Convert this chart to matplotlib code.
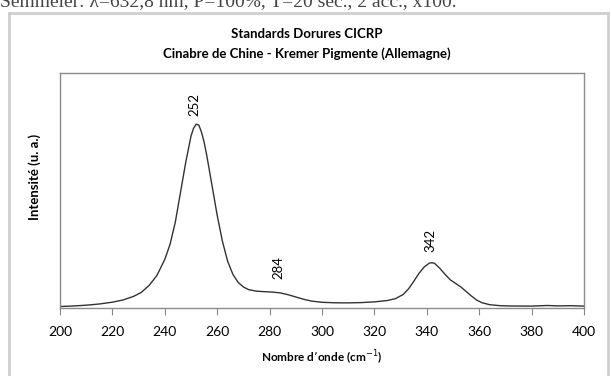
import matplotlib
matplotlib.use("Agg")
import matplotlib.pyplot as plt
from matplotlib.lines import Line2D

# Data (wavenumber in cm-1, intensity in arbitrary units)
wavenumber = [200, 205, 210, 215, 220, 224, 228, 231, 234, 237, 240, 242, 244, 246,
              248, 250, 251, 252, 253, 254, 255, 256, 258, 260, 262, 264, 266, 268,
              270, 272, 275, 278, 281, 284, 287, 290, 293, 296, 300, 305, 310, 315,
              320, 325, 328, 331, 333, 335, 337, 339, 341, 342, 343, 345, 347, 349,
              351, 353, 355, 357, 359, 361, 364, 368, 372, 380, 386, 390, 395, 400]
intensity = [1.0, 1.5, 2.3, 3.5, 5.3, 7.5, 11, 15, 22, 32, 48, 63, 85, 115,
             145, 171, 179, 183, 182, 175, 165, 152, 122, 92, 66, 46, 33, 25,
             20.5, 17.8, 16.3, 15.8, 15.4, 14.6, 12.8, 10.5, 8.2, 6.4, 5.2, 4.7, 4.6, 4.9,
             5.6, 7.0, 8.8, 13, 18.5, 26, 34, 40.5, 44.3, 44.7, 44, 39, 33, 27.5,
             24, 20.5, 16, 11.5, 7.5, 4.8, 2.8, 1.8, 1.5, 1.4, 2.0, 1.6, 1.8, 1.4]

peak_positions = [252, 284, 342]
peak_heights = [183, 14.7, 44.7]
peak_labels = ["252", "284", "342"]

x_ticks = [200, 220, 240, 260, 280, 300, 320, 340, 360, 380, 400]

title_lines = ["Standards Dorures CICRP", "Cinabre de Chine - Kremer Pigmente (Allemagne)"]
header_text = "Semmeier: \u03bb=632,8 nm, P=100%, T=20 sec., 2 acc., x100."

W, H = 611, 376
fig = plt.figure(figsize=(W / 100, H / 100), dpi=100)
fig.patch.set_facecolor("white")

# axes in pixel coordinates: left 60, right 584, top 73, bottom 308
L, R, T, B = 60, 584, 73, 308
ax = fig.add_axes([L / W, 1 - B / H, (R - L) / W, (B - T) / H])

ax.plot(wavenumber, intensity, color="#333333", lw=1.0)
ax.set_xlim(200, 400)
ax.set_ylim(-0.5, 234)
ax.set_xticks(x_ticks)
ax.set_xticklabels([str(t) for t in x_ticks], fontfamily="Lato", fontsize=10)
ax.set_yticks([])
ax.tick_params(axis="x", direction="out", length=5, color="#888888", pad=8)
for s in ax.spines.values():
    s.set_color("#8c8c8c")
    s.set_linewidth(1.0)

label_offsets = [6, 10, 8]
for xp, hp, lab, off in zip(peak_positions, peak_heights, peak_labels, label_offsets):
    ax.annotate(lab, (xp, hp), xytext=(-1, off), textcoords="offset points",
                rotation=90, ha="center", va="bottom", fontfamily="Lato",
                fontsize=9.5, color="black")

ax.set_xlabel("Nombre d\u2019onde (cm$^{-1}$)", fontfamily="Lato", fontweight="bold",
              fontsize=8.5, labelpad=8)
fig.text(35 / W, 1 - 177 / H, "Intensit\u00e9 (u. a.)", rotation=90, ha="center",
         va="center", fontfamily="Lato", fontweight="bold", fontsize=9.5)

fig.text(307 / W, 1 - 34 / H, title_lines[0], ha="center", va="center",
         fontfamily="Lato", fontweight="bold", fontsize=9.5)
fig.text(307 / W, 1 - 54 / H, title_lines[1], ha="center", va="center",
         fontfamily="Lato", fontweight="bold", fontsize=9.5)

# clipped header line at the very top (cut off in the reference too)
fig.text(0, 1 - 6 / H, header_text, ha="left", va="baseline",
         fontfamily="Liberation Serif", fontsize=14, color="#444444")

# outer chart border
bc = "#cfcfcf"
fig.add_artist(Line2D([8.5 / W, 8.5 / W], [0, 1 - 13 / H], transform=fig.transFigure,
                      color=bc, lw=2))
fig.add_artist(Line2D([607.5 / W, 607.5 / W], [0, 1 - 13 / H], transform=fig.transFigure,
                      color=bc, lw=2))
fig.add_artist(Line2D([8.5 / W, 607.5 / W], [1 - 13 / H, 1 - 13 / H],
                      transform=fig.transFigure, color=bc, lw=2))

fig.savefig("out.png", dpi=100)
